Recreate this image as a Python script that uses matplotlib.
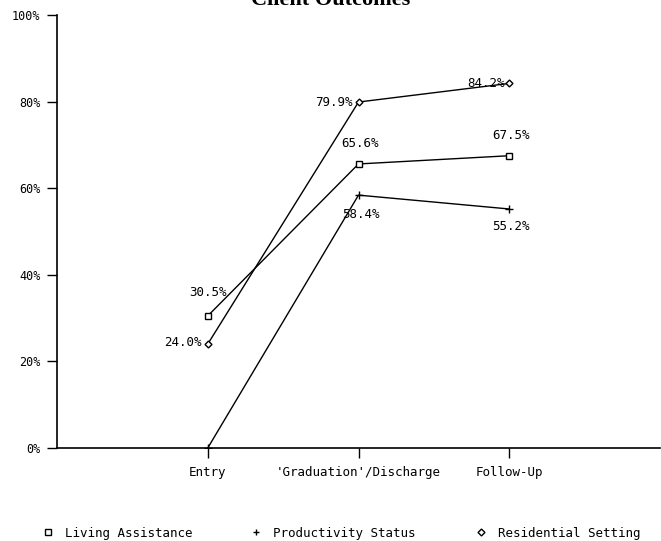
import numpy as np
import matplotlib
matplotlib.use("Agg")
import matplotlib.pyplot as plt
from matplotlib.lines import Line2D

categories = ["Entry", "'Graduation'/Discharge", "Follow-Up"]
series_names = ["Living Assistance", "Productivity Status", "Residential Setting"]
living = [30.5, 65.6, 67.5]
productivity = [0.0, 58.4, 55.2]
residential = [24.0, 79.9, 84.2]
y_ticks = [0, 20, 40, 60, 80, 100]

mono = "DejaVu Sans Mono"
W, H = 661, 541

fig = plt.figure(figsize=(W / 100, H / 100), dpi=100)
ax = fig.add_axes([57 / W, 93 / H, 603 / W, 433 / H])

xs = np.arange(1, len(categories) + 1)
ax.plot(xs, living, color="black", lw=1.0, marker="s", ms=5, mfc="white", mec="black", mew=1.0)
ax.plot(xs, productivity, color="black", lw=1.0, marker="+", ms=6, mew=1.0)
ax.plot(xs, residential, color="black", lw=1.0, marker="D", ms=3.5, mfc="white", mec="black", mew=1.0)

# value labels (offsets in pixels)
lab = dict(fontsize=9, family=mono, color="black", textcoords="offset pixels")
ax.annotate(f"{living[0]:.1f}%", (xs[0], living[0]), xytext=(0, 23), ha="center", va="center", **lab)
ax.annotate(f"{living[1]:.1f}%", (xs[1], living[1]), xytext=(2, 20), ha="center", va="center", **lab)
ax.annotate(f"{living[2]:.1f}%", (xs[2], living[2]), xytext=(2, 20), ha="center", va="center", **lab)
ax.annotate(f"{productivity[1]:.1f}%", (xs[1], productivity[1]), xytext=(2, -19), ha="center", va="center", **lab)
ax.annotate(f"{productivity[2]:.1f}%", (xs[2], productivity[2]), xytext=(2, -18), ha="center", va="center", **lab)
ax.annotate(f"{residential[0]:.1f}%", (xs[0], residential[0]), xytext=(-6, 2), ha="right", va="center", **lab)
ax.annotate(f"{residential[1]:.1f}%", (xs[1], residential[1]), xytext=(-6, 0), ha="right", va="center", **lab)
ax.annotate(f"{residential[2]:.1f}%", (xs[2], residential[2]), xytext=(-5, 0), ha="right", va="center", **lab)

ax.set_xlim(0, 4)
ax.set_ylim(0, 100)
ax.set_xticks(xs)
ax.set_xticklabels(categories, family=mono, fontsize=9)
ax.set_yticks(y_ticks)
ax.set_yticklabels([f"{v}%" for v in y_ticks], family=mono, fontsize=8.5)
ax.tick_params(axis="both", direction="out", length=7, width=1.0, color="black")
ax.tick_params(axis="x", pad=6)
ax.tick_params(axis="y", pad=5)
for s in ["top", "right"]:
    ax.spines[s].set_visible(False)
ax.spines["left"].set_linewidth(1.2)
ax.spines["bottom"].set_linewidth(1.2)

fig.text(0.5, 1 - 5 / H, "Client Outcomes", ha="center", va="baseline",
         family="Liberation Serif", fontweight="bold", fontsize=16)

# legend: one entry per series, spread along the bottom
handles = [
    Line2D([], [], ls="none", marker="s", ms=4.5, mfc="white", mec="black", color="black"),
    Line2D([], [], ls="none", marker="+", ms=5, mew=1.0, color="black"),
    Line2D([], [], ls="none", marker="D", ms=3.5, mfc="white", mec="black", color="black"),
]
marker_x = [48, 256, 481]
for h, name, mx in zip(handles, series_names, marker_x):
    leg = fig.legend([h], [name], loc="center left",
                     bbox_to_anchor=((mx - 6.25) / W, 1 - 533 / H),
                     frameon=False, prop={"family": mono, "size": 9},
                     borderpad=0, borderaxespad=0, handlelength=1.0,
                     handletextpad=0.86)

fig.savefig("out.png", dpi=100)
